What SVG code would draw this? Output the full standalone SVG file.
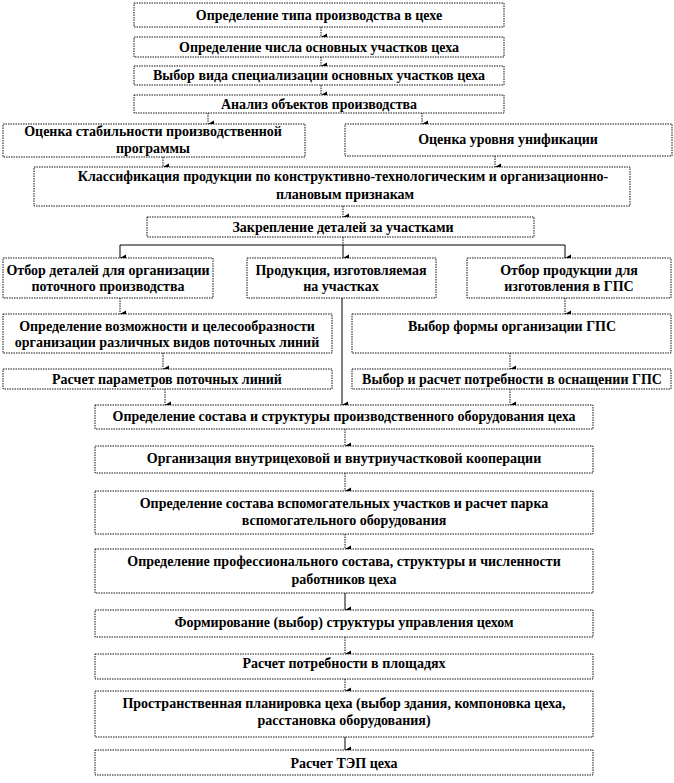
<svg xmlns="http://www.w3.org/2000/svg" width="674" height="783" viewBox="0 0 674 783">
<defs>
<style>
.b{fill:#fff;stroke:#111;stroke-width:1;stroke-dasharray:1.5 1}
.t{font-family:'Liberation Serif','DejaVu Serif',serif;font-weight:bold;font-size:14px;fill:#000;text-anchor:middle}
.c{fill:none;stroke:#111;stroke-width:1;stroke-dasharray:1.5 1}
.s{fill:none;stroke:#000;stroke-width:1}
</style>
<marker id="ah" markerUnits="userSpaceOnUse" markerWidth="8" markerHeight="8" refX="4" refY="7" orient="auto-start-reverse" viewBox="0 0 8 8">
<path d="M0.5,1 L7.5,1 L4,7 Z" fill="#000"/>
</marker>
</defs>
<rect width="674" height="783" fill="#fff"/>

<g id="connectors">
<path class="c" d="M321,27 V37" marker-end="url(#ah)"/>
<path class="c" d="M321,57 V66" marker-end="url(#ah)"/>
<path class="c" d="M321,85 V95" marker-end="url(#ah)"/>
<path class="c" d="M208,113 V124" marker-end="url(#ah)"/>
<path class="c" d="M422,113 V124" marker-end="url(#ah)"/>
<path class="c" d="M163,157 V167" marker-end="url(#ah)"/>
<path class="c" d="M495,156 V167" marker-end="url(#ah)"/>
<path class="c" d="M343,206 V217" marker-end="url(#ah)"/>
<path class="c" d="M343,237 V245"/>
<path class="s" d="M120,245 H565"/>
<path class="s" d="M120,245 V258" marker-end="url(#ah)"/>
<path class="s" d="M343,245 V258" marker-end="url(#ah)"/>
<path class="s" d="M565,245 V258" marker-end="url(#ah)"/>
<path class="c" d="M120,298 V314" marker-end="url(#ah)"/>
<path class="c" d="M565,298 V314" marker-end="url(#ah)"/>
<path class="c" d="M163,353 V369" marker-end="url(#ah)"/>
<path class="c" d="M510,353 V369" marker-end="url(#ah)"/>
<path class="c" d="M165,389 V405" marker-end="url(#ah)"/>
<path class="c" d="M510,389 V405" marker-end="url(#ah)"/>
<path class="s" d="M342,298 V405" marker-end="url(#ah)"/>
<path class="c" d="M345,429 V446" marker-end="url(#ah)"/>
<path class="c" d="M345,473 V491" marker-end="url(#ah)"/>
<path class="c" d="M345,534 V549" marker-end="url(#ah)"/>
<path class="s" d="M345,593 V610" marker-end="url(#ah)"/>
<path class="c" d="M345,637 V654" marker-end="url(#ah)"/>
<path class="c" d="M345,679 V691" marker-end="url(#ah)"/>
<path class="s" d="M345,737 V750" marker-end="url(#ah)"/>
</g>

<g id="n1"><rect class="b" x="134" y="3" width="370" height="24"/><text class="t" x="319" y="20">Определение типа производства в цехе</text></g>
<g id="n2"><rect class="b" x="134" y="37" width="370" height="20"/><text class="t" x="319" y="52">Определение числа основных участков цеха</text></g>
<g id="n3"><rect class="b" x="134" y="66" width="370" height="19"/><text class="t" x="319" y="80">Выбор вида специализации  основных участков цеха</text></g>
<g id="n4"><rect class="b" x="134" y="95" width="370" height="18"/><text class="t" x="319" y="109">Анализ  объектов производства</text></g>
<g id="n5"><rect class="b" x="3" y="124" width="302" height="33"/><text class="t" x="153" y="136">Оценка стабильности производственной</text><text class="t" x="153" y="153">программы</text></g>
<g id="n6"><rect class="b" x="345" y="124" width="327" height="32"/><text class="t" x="508" y="144">Оценка уровня унификации</text></g>
<g id="n7"><rect class="b" x="34" y="167" width="596" height="39"/><text class="t" x="343" y="181">Классификация продукции  по  конструктивно-технологическим  и организационно-</text><text class="t" x="345" y="199">плановым  признакам</text></g>
<g id="n8"><rect class="b" x="147" y="217" width="387" height="20"/><text class="t" x="343" y="232">Закрепление деталей за участками</text></g>
<g id="n9"><rect class="b" x="3" y="258" width="210" height="40"/><text class="t" x="108" y="275">Отбор деталей для организации</text><text class="t" x="108" y="291">поточного  производства</text></g>
<g id="n10"><rect class="b" x="247" y="258" width="189" height="40"/><text class="t" x="341" y="275">Продукция,  изготовляемая</text><text class="t" x="341" y="291">на участках</text></g>
<g id="n11"><rect class="b" x="467" y="258" width="204" height="40"/><text class="t" x="569" y="275">Отбор продукции  для</text><text class="t" x="569" y="291">изготовления в ГПС</text></g>
<g id="n12"><rect class="b" x="3" y="314" width="329" height="39"/><text class="t" x="167" y="331">Определение возможности и целесообразности</text><text class="t" x="167" y="347">организации  различных видов поточных линий</text></g>
<g id="n13"><rect class="b" x="352" y="314" width="319" height="39"/><text class="t" x="512" y="331">Выбор формы организации  ГПС</text></g>
<g id="n14"><rect class="b" x="3" y="369" width="329" height="20"/><text class="t" x="167" y="384">Расчет параметров поточных линий</text></g>
<g id="n15"><rect class="b" x="352" y="369" width="319" height="20"/><text class="t" x="512" y="384">Выбор и расчет потребности в  оснащении ГПС</text></g>
<g id="n16"><rect class="b" x="95" y="405" width="498" height="24"/><text class="t" x="344" y="421">Определение  состава и структуры производственного оборудования цеха</text></g>
<g id="n17"><rect class="b" x="95" y="446" width="498" height="27"/><text class="t" x="344" y="463">Организация  внутрицеховой  и внутриучастковой кооперации</text></g>
<g id="n18"><rect class="b" x="95" y="491" width="498" height="43"/><text class="t" x="344" y="508">Определение состава вспомогательных участков и расчет парка</text><text class="t" x="344" y="525">вспомогательного оборудования</text></g>
<g id="n19"><rect class="b" x="95" y="549" width="498" height="44"/><text class="t" x="344" y="566">Определение профессионального  состава, структуры и численности</text><text class="t" x="344" y="584">работников цеха</text></g>
<g id="n20"><rect class="b" x="95" y="610" width="498" height="27"/><text class="t" x="344" y="627">Формирование  (выбор) структуры управления цехом</text></g>
<g id="n21"><rect class="b" x="95" y="654" width="498" height="25"/><text class="t" x="344" y="668">Расчет потребности в площадях</text></g>
<g id="n22"><rect class="b" x="95" y="691" width="498" height="46"/><text class="t" x="344" y="708">Пространственная планировка цеха (выбор здания, компоновка цеха,</text><text class="t" x="344" y="725">расстановка оборудования)</text></g>
<g id="n23"><rect class="b" x="95" y="750" width="498" height="25"/><text class="t" x="344" y="768">Расчет ТЭП цеха</text></g>
</svg>
